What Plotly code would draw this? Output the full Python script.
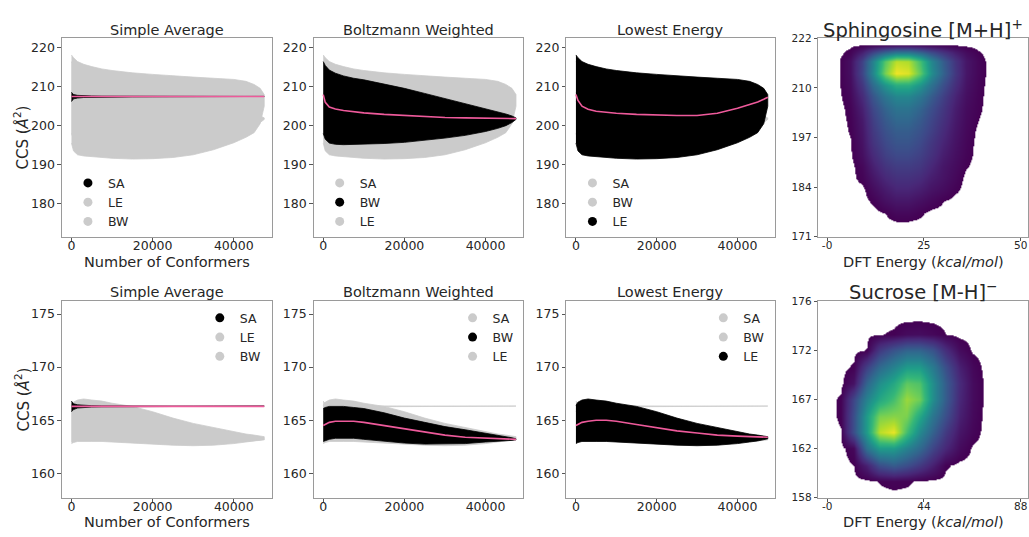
import plotly.graph_objects as go

FONT = "DejaVu Sans"
TXT = "#262626"
GRAY = "#cbcbcb"
BLACK = "#000000"
PINK = "#ee5a9b"

# ---------------- convergence data (number of conformers) ----------------
CONF = [0, 500, 1500, 3000, 5000, 7500, 10000, 15000, 20000, 25000,
        30000, 35000, 40000, 43000, 45000, 46500, 47500]

# Row 1: Sphingosine [M+H]+
SPH_SA_UP = [208.6, 208.0, 207.8, 207.7, 207.65, 207.6, 207.6, 207.58, 207.57, 207.56,
             207.55, 207.55, 207.54, 207.54, 207.53, 207.53, 207.52]
SPH_SA_LO = [206.2, 206.9, 207.1, 207.25, 207.3, 207.35, 207.38, 207.4, 207.42, 207.43,
             207.44, 207.45, 207.46, 207.46, 207.47, 207.47, 207.48]
SPH_SA_MEAN = [207.5, 207.5, 207.5, 207.5, 207.5, 207.5, 207.5, 207.5, 207.5, 207.5,
               207.5, 207.5, 207.5, 207.5, 207.5, 207.5, 207.5]
SPH_BW_UP = [216.5, 215.5, 214.3, 213.5, 212.8, 212.2, 211.8, 210.7, 209.6, 208.3,
             207.0, 205.7, 204.4, 203.6, 203.0, 202.5, 202.0]
SPH_BW_LO = [198.0, 196.5, 195.5, 195.2, 195.1, 195.1, 195.2, 195.4, 195.7, 196.2,
             196.8, 197.5, 198.5, 199.3, 200.0, 200.8, 201.6]
SPH_BW_MEAN = [208.0, 206.0, 204.8, 204.3, 203.9, 203.6, 203.3, 202.9, 202.6, 202.3,
               202.1, 202.0, 201.9, 201.8, 201.8, 201.8, 201.8]
SPH_LE_UP = [218.2, 217.5, 216.5, 215.8, 215.2, 214.6, 214.2, 213.6, 213.2, 212.8,
             212.5, 212.2, 211.9, 211.4, 210.6, 209.6, 208.0]
SPH_LE_LO = [195.5, 193.5, 192.5, 192.2, 192.0, 191.8, 191.6, 191.4, 191.5, 191.8,
             192.5, 193.8, 195.6, 197.0, 198.2, 200.5, 205.0]
SPH_LE_MEAN = [208.0, 206.5, 205.0, 204.2, 203.7, 203.4, 203.2, 202.9, 202.7, 202.6,
               202.6, 203.2, 204.5, 205.4, 206.1, 206.8, 207.3]

# Row 2: Sucrose [M-H]-
SUC_SA_UP = [166.8, 166.55, 166.45, 166.4, 166.37, 166.35, 166.34, 166.33, 166.33, 166.33,
             166.33, 166.33, 166.33, 166.33, 166.33, 166.33, 166.33]
SUC_SA_LO = [165.8, 166.0, 166.15, 166.2, 166.24, 166.26, 166.27, 166.28, 166.28, 166.28,
             166.28, 166.28, 166.28, 166.28, 166.28, 166.28, 166.28]
SUC_SA_MEAN = [166.3, 166.3, 166.3, 166.3, 166.3, 166.3, 166.3, 166.3, 166.3, 166.3,
               166.3, 166.3, 166.3, 166.3, 166.3, 166.3, 166.3]
SUC_BW_UP = [166.1, 166.2, 166.3, 166.3, 166.3, 166.2, 166.1, 165.7, 165.2, 164.8,
             164.4, 164.1, 163.8, 163.6, 163.5, 163.35, 163.25]
SUC_BW_LO = [163.0, 163.1, 163.2, 163.3, 163.3, 163.3, 163.2, 163.0, 162.85, 162.75,
             162.75, 162.8, 162.95, 163.0, 163.05, 163.1, 163.15]
SUC_BW_MEAN = [164.5, 164.6, 164.8, 164.9, 164.9, 164.9, 164.8, 164.5, 164.2, 163.9,
               163.6, 163.4, 163.3, 163.25, 163.2, 163.2, 163.2]
SUC_LE_UP = [166.4, 166.7, 166.9, 167.0, 166.9, 166.8, 166.6, 166.3, 165.8, 165.2,
             164.7, 164.3, 163.9, 163.7, 163.6, 163.5, 163.45]
SUC_LE_LO = [162.8, 162.9, 163.0, 163.0, 163.0, 163.0, 163.0, 162.9, 162.75, 162.65,
             162.6, 162.65, 162.8, 162.95, 163.05, 163.15, 163.25]
SUC_LE_MEAN = [164.5, 164.6, 164.8, 164.9, 165.0, 165.0, 164.9, 164.6, 164.3, 164.0,
               163.8, 163.6, 163.5, 163.45, 163.4, 163.4, 163.4]

# ---------------- point density (DFT energy vs CCS) ----------------
SPH_E = [0, 3, 6, 9, 12, 15, 18, 21, 24, 27, 30, 33, 36, 39, 42, 45, 48, 51]
SPH_CCS = [171, 174, 177, 180, 183, 186, 189, 192, 195, 198, 201, 204, 207, 210, 213, 216,
           218.5, 220.5, 222]
SPH_DENS = [
    [0, 0, 0, 0, 0, 0, 0, 0, 0, 0, 0, 0, 0, 0, 0, 0, 0, 0],
    [0, 0, 0, 0, 0, 0, 0, 0, 0, 0, 0, 0, 0, 0, 0, 0, 0, 0],
    [0, 0, 0, 0, 0, 0.01, 0.03, 0.03, 0.015, 0, 0, 0, 0, 0, 0, 0, 0, 0],
    [0, 0, 0, 0, 0.015, 0.05, 0.07, 0.07, 0.05, 0.03, 0.01, 0, 0, 0, 0, 0, 0, 0],
    [0, 0, 0, 0, 0.04, 0.08, 0.11, 0.11, 0.09, 0.06, 0.04, 0.015, 0, 0, 0, 0, 0, 0],
    [0, 0, 0, 0.02, 0.07, 0.12, 0.15, 0.15, 0.13, 0.09, 0.06, 0.03, 0, 0, 0, 0, 0, 0],
    [0, 0, 0, 0.03, 0.10, 0.16, 0.19, 0.19, 0.17, 0.12, 0.07, 0.04, 0.012, 0, 0, 0, 0, 0],
    [0, 0, 0.005, 0.05, 0.13, 0.20, 0.23, 0.23, 0.20, 0.15, 0.09, 0.05, 0.02, 0, 0, 0, 0, 0],
    [0, 0, 0.008, 0.06, 0.16, 0.23, 0.27, 0.27, 0.23, 0.17, 0.11, 0.06, 0.025, 0, 0, 0, 0, 0],
    [0, 0, 0.012, 0.07, 0.18, 0.26, 0.30, 0.30, 0.26, 0.20, 0.13, 0.07, 0.03, 0.003, 0, 0, 0, 0],
    [0, 0, 0.015, 0.08, 0.20, 0.29, 0.34, 0.34, 0.29, 0.22, 0.15, 0.08, 0.035, 0.01, 0, 0, 0, 0],
    [0, 0, 0.02, 0.10, 0.23, 0.33, 0.39, 0.39, 0.33, 0.25, 0.17, 0.09, 0.04, 0.015, 0, 0, 0, 0],
    [0, 0.003, 0.03, 0.13, 0.28, 0.40, 0.47, 0.47, 0.40, 0.30, 0.20, 0.11, 0.05, 0.018, 0, 0, 0, 0],
    [0, 0.005, 0.04, 0.17, 0.36, 0.52, 0.62, 0.62, 0.52, 0.38, 0.25, 0.14, 0.06, 0.022, 0, 0, 0, 0],
    [0, 0.006, 0.05, 0.22, 0.48, 0.80, 0.98, 0.95, 0.75, 0.50, 0.32, 0.17, 0.07, 0.026, 0.002, 0, 0, 0],
    [0, 0.006, 0.05, 0.21, 0.46, 0.74, 0.90, 0.88, 0.70, 0.47, 0.30, 0.16, 0.07, 0.026, 0.001, 0, 0, 0],
    [0, 0, 0.02, 0.10, 0.22, 0.33, 0.40, 0.40, 0.33, 0.24, 0.16, 0.09, 0.04, 0.013, 0, 0, 0, 0],
    [0, 0, 0, 0, 0, 0, 0, 0, 0, 0, 0, 0, 0, 0, 0, 0, 0, 0],
    [0, 0, 0, 0, 0, 0, 0, 0, 0, 0, 0, 0, 0, 0, 0, 0, 0, 0],
]

SUC_E = [0, 6, 12, 18, 24, 30, 36, 42, 48, 54, 60, 66, 72, 78, 84, 90]
SUC_CCS = [158, 159.5, 161, 162.5, 164, 165.5, 167, 168.5, 170, 171.5, 173, 174.5, 176]
SUC_DENS = [
    [0, 0, 0, 0, 0, 0, 0, 0, 0, 0, 0, 0, 0, 0, 0, 0],
    [0, 0, 0, 0, 0.012, 0.02, 0.015, 0.005, 0, 0, 0, 0, 0, 0, 0, 0],
    [0, 0, 0.01, 0.10, 0.25, 0.30, 0.25, 0.18, 0.10, 0.015, 0, 0, 0, 0, 0, 0],
    [0, 0, 0.03, 0.38, 0.55, 0.55, 0.45, 0.35, 0.22, 0.12, 0.04, 0.005, 0, 0, 0, 0],
    [0, 0.008, 0.25, 0.55, 0.90, 0.97, 0.70, 0.48, 0.32, 0.18, 0.07, 0.025, 0, 0, 0, 0],
    [0, 0.015, 0.25, 0.55, 0.80, 0.82, 0.80, 0.60, 0.40, 0.25, 0.10, 0.035, 0, 0, 0, 0],
    [0, 0.015, 0.22, 0.45, 0.60, 0.70, 0.85, 0.78, 0.50, 0.30, 0.12, 0.04, 0.003, 0, 0, 0],
    [0, 0, 0.06, 0.33, 0.50, 0.60, 0.75, 0.72, 0.50, 0.30, 0.13, 0.04, 0.003, 0, 0, 0],
    [0, 0, 0.015, 0.20, 0.35, 0.45, 0.55, 0.55, 0.42, 0.25, 0.10, 0.03, 0, 0, 0, 0],
    [0, 0, 0, 0.012, 0.18, 0.27, 0.33, 0.33, 0.27, 0.14, 0.04, 0.005, 0, 0, 0, 0],
    [0, 0, 0, 0, 0.008, 0.015, 0.04, 0.045, 0.03, 0.01, 0, 0, 0, 0, 0, 0],
    [0, 0, 0, 0, 0, 0, 0, 0, 0, 0, 0, 0, 0, 0, 0, 0],
    [0, 0, 0, 0, 0, 0, 0, 0, 0, 0, 0, 0, 0, 0, 0, 0],
]

PANEL_TITLES = ["Simple Average", "Boltzmann Weighted", "Lowest Energy"]
ROW_TITLES = ["Sphingosine [M+H]<sup>+</sup>", "Sucrose [M-H]<sup>\u2212</sup>"]

ROWS = [
    {"SA": (SPH_SA_UP, SPH_SA_LO, SPH_SA_MEAN),
     "BW": (SPH_BW_UP, SPH_BW_LO, SPH_BW_MEAN),
     "LE": (SPH_LE_UP, SPH_LE_LO, SPH_LE_MEAN)},
    {"SA": (SUC_SA_UP, SUC_SA_LO, SUC_SA_MEAN),
     "BW": (SUC_BW_UP, SUC_BW_LO, SUC_BW_MEAN),
     "LE": (SUC_LE_UP, SUC_LE_LO, SUC_LE_MEAN)},
]
HIGHLIGHT = ["SA", "BW", "LE"]
LEGEND_ORDER = [["SA", "LE", "BW"], ["SA", "BW", "LE"], ["SA", "BW", "LE"]]

# viridis, with values below the first level left white (no points there)
VIRIDIS = ["#440154", "#482878", "#3e4989", "#31688e", "#26828e",
           "#1f9e89", "#35b779", "#6ece58", "#b5de2b", "#fde725"]
CSCALE = [[0.0, "#ffffff"], [0.0099, "#ffffff"]] + \
         [[0.01 + 0.99 * i / 9, col] for i, col in enumerate(VIRIDIS)]

# ---------------- layout geometry ----------------
W, H = 1029, 537
def fx(p): return p / W
def fy(p): return 1 - p / H

COLS = [(62, 272), (314, 524), (567, 776), (819, 1029)]
ROWPX = [(33, 236), (302, 503)]

fig = go.Figure()

def ax_id(r, c):
    return r * 4 + c + 1

for r in range(2):
    data = ROWS[r]
    for c in range(3):
        k = ax_id(r, c)
        xa, ya = f"x{k}", f"y{k}"
        hl = HIGHLIGHT[c]
        order = [m for m in ["SA", "BW", "LE"] if m != hl] + [hl]
        for m in order:
            up, lo, _ = data[m]
            col = BLACK if m == hl else GRAY
            fig.add_trace(go.Scatter(
                x=CONF + CONF[::-1], y=up + lo[::-1], fill="toself",
                fillcolor=col, line=dict(color=col, width=0.8),
                mode="lines", xaxis=xa, yaxis=ya, showlegend=False,
                hoverinfo="skip"))
        fig.add_trace(go.Scatter(
            x=CONF, y=data[hl][2], mode="lines",
            line=dict(color=PINK, width=1.6), xaxis=xa, yaxis=ya,
            showlegend=False))
        lg = "legend" if (r * 3 + c) == 0 else f"legend{r * 3 + c + 1}"
        for m in LEGEND_ORDER[c]:
            fig.add_trace(go.Scatter(
                x=[None], y=[None], mode="markers", name=m,
                marker=dict(color=BLACK if m == hl else GRAY, size=9),
                xaxis=xa, yaxis=ya, legend=lg, showlegend=True))

# density panels
for r, (E, C, D) in enumerate([(SPH_E, SPH_CCS, SPH_DENS), (SUC_E, SUC_CCS, SUC_DENS)]):
    k = ax_id(r, 3)
    fig.add_trace(go.Heatmap(
        x=E, y=C, z=D, colorscale=CSCALE, zmin=0, zmax=1,
        zsmooth="best", showscale=False, xaxis=f"x{k}", yaxis=f"y{k}",
        hoverinfo="skip"))

base_ax = dict(showline=True, linecolor="#9a9a9a", linewidth=1, mirror=True,
               ticks="outside", ticklen=3.5, tickcolor="#555555", showgrid=False,
               zeroline=False, layer="above traces",
               tickfont=dict(family=FONT, size=12.5, color=TXT))

layout = dict(width=W, height=H, margin=dict(l=0, r=0, t=0, b=0),
              plot_bgcolor="white", paper_bgcolor="white",
              font=dict(family=FONT, color=TXT))

YR = [[171.4, 222.5], [157.7, 176.2]]
YT = [[180, 190, 200, 210, 220], [160, 165, 170, 175]]
for r in range(2):
    for c in range(4):
        k = ax_id(r, c)
        xd = [fx(COLS[c][0]), fx(COLS[c][1])]
        yd = [fy(ROWPX[r][1]), fy(ROWPX[r][0])]
        xa = dict(base_ax, domain=xd, anchor=f"y{k}")
        ya = dict(base_ax, domain=yd, anchor=f"x{k}")
        if c < 3:
            xa.update(range=[-2350, 49350], tickvals=[0, 20000, 40000],
                      ticktext=["0", "20000", "40000"], ticklabelstandoff=-6)
            ya.update(range=YR[r], tickvals=YT[r], ticktext=[str(v) for v in YT[r]])
        else:
            small = dict(family=FONT, size=10.5, color=TXT)
            if r == 0:
                xa.update(range=[-2.3, 51.9], tickvals=[0, 25, 50],
                          ticktext=["-0", "25", "50"], tickfont=small,
                          ticklabelstandoff=-5)
                ya.update(range=[171, 222], tickvals=[171, 183.75, 196.5, 209.25, 222],
                          ticktext=["171", "184", "197", "210", "222"], tickfont=small)
            else:
                xa.update(range=[-4.1, 91.3], tickvals=[0, 44, 88],
                          ticktext=["-0", "44", "88"], tickfont=small,
                          ticklabelstandoff=-5)
                ya.update(range=[158, 176], tickvals=[158, 162.5, 167, 171.5, 176],
                          ticktext=["158", "162", "167", "172", "176"], tickfont=small)
        layout[f"xaxis{k}"] = xa
        layout[f"yaxis{k}"] = ya

# legends
LEG_X = [[68, 320, 573], [200, 453, 704]]
LEG_TOP = [166, 304]
for r in range(2):
    for c in range(3):
        idx = r * 3 + c
        name = "legend" if idx == 0 else f"legend{idx + 1}"
        layout[name] = dict(x=fx(LEG_X[r][c]), y=fy(LEG_TOP[r]), xanchor="left",
                            yanchor="top", bgcolor="rgba(0,0,0,0)", borderwidth=0,
                            itemwidth=30, tracegroupgap=0,
                            font=dict(family=FONT, size=12.5, color=TXT))

ann = []
TITLE_Y = [25, 293]
for r in range(2):
    for c in range(3):
        ann.append(dict(text=PANEL_TITLES[c], x=fx((COLS[c][0] + COLS[c][1]) / 2),
                        y=fy(TITLE_Y[r]), xref="paper", yref="paper",
                        xanchor="center", yanchor="middle", showarrow=False,
                        font=dict(family=FONT, size=14.5, color=TXT)))
    ann.append(dict(text=ROW_TITLES[r], x=fx((COLS[3][0] + COLS[3][1]) / 2),
                    y=fy(TITLE_Y[r] - 1), xref="paper", yref="paper",
                    xanchor="center", yanchor="middle", showarrow=False,
                    font=dict(family=FONT, size=19.5, color=TXT)))
    ann.append(dict(text="Number of Conformers", x=fx((COLS[0][0] + COLS[0][1]) / 2),
                    y=fy([262, 528][r]), xref="paper", yref="paper",
                    xanchor="center", yanchor="middle", showarrow=False,
                    font=dict(family=FONT, size=14.5, color=TXT)))
    ann.append(dict(text="DFT Energy (<i>kcal/mol</i>)",
                    x=fx((COLS[3][0] + COLS[3][1]) / 2),
                    y=fy([262, 528][r]), xref="paper", yref="paper",
                    xanchor="center", yanchor="middle", showarrow=False,
                    font=dict(family=FONT, size=14.5, color=TXT)))
    ann.append(dict(text="CCS (<i>\u00c5</i><sup>2</sup>)", x=fx(22),
                    y=fy((ROWPX[r][0] + ROWPX[r][1]) / 2), xref="paper", yref="paper",
                    xanchor="center", yanchor="middle", textangle=-90, showarrow=False,
                    font=dict(family=FONT, size=15, color=TXT)))
layout["annotations"] = ann

fig.update_layout(**layout)
fig.write_html("out.html")
